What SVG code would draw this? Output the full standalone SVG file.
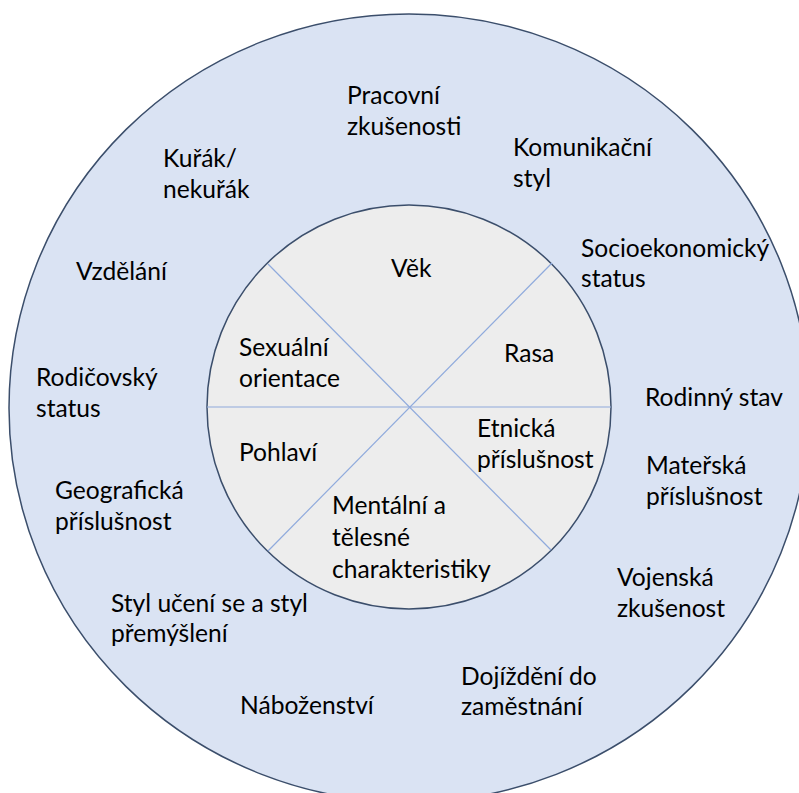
<svg xmlns="http://www.w3.org/2000/svg" width="799" height="793" viewBox="0 0 799 793">
<style>
  text { font-family: Lato, "Open Sans", "Liberation Sans", sans-serif; font-size: 24.6px; fill: #000; }
  .outer { fill: #dae3f3; stroke: #3b4e6b; stroke-width: 1.5; }
  .inner { fill: #ededed; stroke: #3b4e6b; stroke-width: 1.5; }
  .div { stroke: #8faadc; stroke-width: 1.2; fill: none; }
</style>
<rect width="799" height="793" fill="#ffffff"/>
<g id="outer-ring">
  <ellipse class="outer" cx="409" cy="408" rx="400" ry="394"/>
</g>
<g id="inner-circle">
  <circle class="inner" cx="409" cy="407" r="202"/>
</g>
<g id="connectors">
  <line class="div" x1="207" y1="407" x2="611" y2="407"/>
  <line class="div" x1="268" y1="264" x2="551" y2="550"/>
  <line class="div" x1="552" y1="263" x2="268" y2="551"/>
</g>
<g id="inner-labels">
  <g id="vek"><text x="391" y="277">Věk</text></g>
  <g id="rasa"><text x="504" y="362">Rasa</text></g>
  <g id="etnicka"><text x="477" y="437">Etnická</text><text x="477" y="468">příslušnost</text></g>
  <g id="mentalni"><text x="332" y="514">Mentální a</text><text x="332" y="546">tělesné</text><text x="332" y="578">charakteristiky</text></g>
  <g id="pohlavi"><text x="239" y="461">Pohlaví</text></g>
  <g id="sexualni"><text x="239" y="356">Sexuální</text><text x="239" y="387">orientace</text></g>
</g>
<g id="outer-labels">
  <g id="pracovni"><text x="347" y="104">Pracovní</text><text x="347" y="135">zkušenosti</text></g>
  <g id="komunikacni"><text x="513" y="156">Komunikační</text><text x="513" y="187">styl</text></g>
  <g id="socio"><text x="581" y="257">Socioekonomický</text><text x="581" y="287">status</text></g>
  <g id="rodinny"><text x="645" y="406">Rodinný stav</text></g>
  <g id="materska"><text x="646" y="474">Mateřská</text><text x="646" y="505">příslušnost</text></g>
  <g id="vojenska"><text x="617" y="586">Vojenská</text><text x="617" y="617">zkušenost</text></g>
  <g id="dojizdeni"><text x="461" y="685">Dojíždění do</text><text x="461" y="715">zaměstnání</text></g>
  <g id="nabozenstvi"><text x="240" y="714">Náboženství</text></g>
  <g id="styl-uceni"><text x="111" y="612">Styl učení se a styl</text><text x="111" y="642">přemýšlení</text></g>
  <g id="geograficka"><text x="55" y="499">Geografická</text><text x="55" y="530">příslušnost</text></g>
  <g id="rodicovsky"><text x="36" y="386">Rodičovský</text><text x="36" y="417">status</text></g>
  <g id="vzdelani"><text x="76" y="280">Vzdělání</text></g>
  <g id="kurak"><text x="163" y="167">Kuřák/</text><text x="163" y="198">nekuřák</text></g>
</g>
</svg>
